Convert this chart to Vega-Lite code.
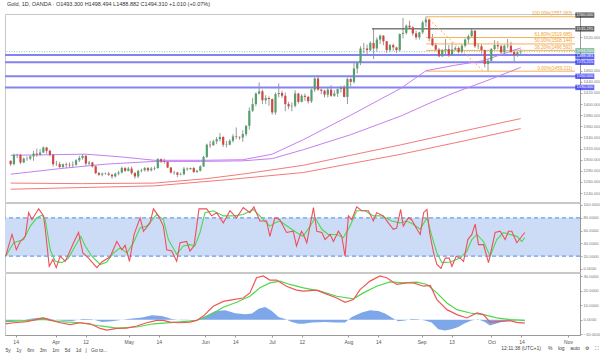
{
  "$schema": "https://vega.github.io/schema/vega-lite/v6.json",
  "background": "white",
  "padding": {"left": 2, "top": 1, "right": 0, "bottom": 0},
  "spacing": 1,
  "bounds": "flush",
  "config": {"view": {"stroke": "#c8c8c8", "strokeWidth": 1}, "font": "Liberation Sans", "axis": {"labelOverlap": false, "labelBound": false, "labelFlush": false, "tickCount": 100}},
  "datasets": {
    "candles": [
      {"i":-156,"o":1298,"h":1299,"l":1289,"c":1292},{"i":-155,"o":1292,"h":1311,"l":1290,"c":1309},{"i":-154,"o":1309,"h":1311,"l":1303,"c":1309.5},{"i":-153,"o":1309,"h":1310,"l":1292,"c":1295},{"i":-152,"o":1295,"h":1304,"l":1294,"c":1302},{"i":-151,"o":1302,"h":1306,"l":1298,"c":1302.6},{"i":-150,"o":1302,"h":1308,"l":1299,"c":1306},{"i":-149,"o":1306,"h":1316,"l":1298,"c":1311},{"i":-148,"o":1311,"h":1320,"l":1305,"c":1309},{"i":-147,"o":1309,"h":1319,"l":1307,"c":1313},{"i":-146,"o":1313,"h":1324,"l":1312,"c":1322},{"i":-145,"o":1322,"h":1323,"l":1311,"c":1316},{"i":-144,"o":1316,"h":1318,"l":1306,"c":1309},{"i":-143,"o":1309,"h":1310,"l":1288,"c":1292},{"i":-142,"o":1292,"h":1298,"l":1289,"c":1292.6},
      {"i":-141,"o":1292,"h":1296,"l":1285,"c":1287},{"i":-140,"o":1287,"h":1293,"l":1285,"c":1292},{"i":-139,"o":1292,"h":1295,"l":1285,"c":1291},{"i":-138,"o":1291,"h":1295,"l":1285,"c":1290},{"i":-137,"o":1290,"h":1297,"l":1285,"c":1291},{"i":-136,"o":1291,"h":1301,"l":1289,"c":1299},{"i":-135,"o":1299,"h":1307,"l":1296,"c":1303},{"i":-134,"o":1303,"h":1310,"l":1300,"c":1307},{"i":-133,"o":1307,"h":1309,"l":1289,"c":1293},{"i":-132,"o":1293,"h":1298,"l":1290,"c":1295},{"i":-131,"o":1295,"h":1296,"l":1286,"c":1288},{"i":-130,"o":1288,"h":1290,"l":1274,"c":1276},{"i":-129,"o":1276,"h":1278,"l":1271,"c":1273},{"i":-128,"o":1273,"h":1277,"l":1270,"c":1275},{"i":-127,"o":1275,"h":1277,"l":1273,"c":1275.6},{"i":-126,"o":1275,"h":1278,"l":1271,"c":1273},{"i":-125,"o":1273,"h":1275,"l":1266,"c":1270},{"i":-124,"o":1270,"h":1277,"l":1268,"c":1275},{"i":-123,"o":1275,"h":1280,"l":1272,"c":1277},{"i":-122,"o":1277,"h":1288,"l":1275,"c":1285},{"i":-121,"o":1285,"h":1287,"l":1278,"c":1280},{"i":-120,"o":1280,"h":1287,"l":1279,"c":1284},
      {"i":-119,"o":1284,"h":1288,"l":1273,"c":1276},{"i":-118,"o":1276,"h":1278,"l":1266,"c":1270},{"i":-117,"o":1270,"h":1282,"l":1267,"c":1280},{"i":-116,"o":1280,"h":1284,"l":1277,"c":1281},{"i":-115,"o":1281,"h":1287,"l":1279,"c":1285},{"i":-114,"o":1285,"h":1287,"l":1278,"c":1281},{"i":-113,"o":1281,"h":1287,"l":1279,"c":1284},{"i":-112,"o":1284,"h":1288,"l":1281,"c":1285},{"i":-111,"o":1285,"h":1303,"l":1284,"c":1301},{"i":-110,"o":1301,"h":1302,"l":1294,"c":1297},{"i":-109,"o":1297,"h":1302,"l":1293,"c":1296},{"i":-108,"o":1296,"h":1298,"l":1285,"c":1286},{"i":-107,"o":1286,"h":1287,"l":1275,"c":1277},{"i":-106,"o":1277,"h":1280,"l":1273,"c":1277.6},{"i":-105,"o":1277,"h":1278,"l":1269,"c":1273},{"i":-104,"o":1273,"h":1277,"l":1272,"c":1274},{"i":-103,"o":1274,"h":1287,"l":1272,"c":1284},{"i":-102,"o":1284,"h":1286,"l":1280,"c":1283},{"i":-101,"o":1283,"h":1286,"l":1282,"c":1285},{"i":-100,"o":1285,"h":1287,"l":1276,"c":1278},{"i":-99,"o":1278,"h":1282,"l":1276,"c":1280},{"i":-98,"o":1280,"h":1290,"l":1279,"c":1288},{"i":-97,"o":1288,"h":1307,"l":1287,"c":1305},
      {"i":-96,"o":1305,"h":1329,"l":1303,"c":1327},{"i":-95,"o":1327,"h":1334,"l":1321,"c":1326},{"i":-94,"o":1326,"h":1336,"l":1325,"c":1333},{"i":-93,"o":1333,"h":1341,"l":1328,"c":1337},{"i":-92,"o":1337,"h":1348,"l":1333,"c":1341},{"i":-91,"o":1341,"h":1342,"l":1323,"c":1327},{"i":-90,"o":1327,"h":1334,"l":1322,"c":1327.7},{"i":-89,"o":1327,"h":1337,"l":1326,"c":1334},{"i":-88,"o":1334,"h":1346,"l":1331,"c":1342},{"i":-87,"o":1342,"h":1358,"l":1337,"c":1341},{"i":-86,"o":1341,"h":1342,"l":1336,"c":1340},{"i":-85,"o":1340,"h":1353,"l":1332,"c":1346},{"i":-84,"o":1346,"h":1362,"l":1342,"c":1361},{"i":-83,"o":1361,"h":1394,"l":1354,"c":1388},{"i":-82,"o":1388,"h":1411,"l":1386,"c":1400},{"i":-81,"o":1400,"h":1421,"l":1396,"c":1419},{"i":-80,"o":1419,"h":1439,"l":1417,"c":1423},{"i":-79,"o":1423,"h":1426,"l":1400,"c":1407},{"i":-78,"o":1407,"h":1416,"l":1400,"c":1411},{"i":-77,"o":1411,"h":1414,"l":1397,"c":1409},
      {"i":-76,"o":1409,"h":1410,"l":1381,"c":1385},{"i":-75,"o":1385,"h":1421,"l":1381,"c":1418},{"i":-74,"o":1418,"h":1437,"l":1412,"c":1420},{"i":-73,"o":1420,"h":1424,"l":1411,"c":1415},{"i":-72,"o":1415,"h":1421,"l":1387,"c":1400},{"i":-71,"o":1400,"h":1404,"l":1391,"c":1396},{"i":-70,"o":1396,"h":1403,"l":1387,"c":1397},{"i":-69,"o":1397,"h":1425,"l":1394,"c":1419},{"i":-68,"o":1419,"h":1420,"l":1401,"c":1404},{"i":-67,"o":1404,"h":1418,"l":1403,"c":1415},{"i":-66,"o":1415,"h":1419,"l":1406,"c":1413},{"i":-65,"o":1413,"h":1415,"l":1401,"c":1405},{"i":-64,"o":1405,"h":1428,"l":1402,"c":1426},{"i":-63,"o":1426,"h":1448,"l":1422,"c":1446},{"i":-62,"o":1446,"h":1452,"l":1424,"c":1426},{"i":-61,"o":1426,"h":1428,"l":1418,"c":1424},{"i":-60,"o":1424,"h":1426,"l":1412,"c":1417},{"i":-59,"o":1417,"h":1430,"l":1412,"c":1426},{"i":-58,"o":1426,"h":1434,"l":1413,"c":1415},{"i":-57,"o":1415,"h":1425,"l":1413,"c":1419},{"i":-56,"o":1419,"h":1428,"l":1413,"c":1427},{"i":-55,"o":1427,"h":1433,"l":1421,"c":1430},{"i":-54,"o":1430,"h":1434,"l":1412,"c":1413},
      {"i":-53,"o":1413,"h":1448,"l":1400,"c":1445},{"i":-52,"o":1445,"h":1448,"l":1432,"c":1440},{"i":-51,"o":1440,"h":1474,"l":1437,"c":1464},{"i":-50,"o":1464,"h":1474,"l":1455,"c":1474},{"i":-49,"o":1474,"h":1504,"l":1470,"c":1500},{"i":-48,"o":1500,"h":1510,"l":1491,"c":1500.7},{"i":-47,"o":1500,"h":1507,"l":1490,"c":1497},{"i":-46,"o":1497,"h":1513,"l":1495,"c":1510},{"i":-45,"o":1510,"h":1535,"l":1481,"c":1500},{"i":-44,"o":1500,"h":1520,"l":1494,"c":1516},{"i":-43,"o":1516,"h":1525,"l":1508,"c":1523},{"i":-42,"o":1523,"h":1524,"l":1506,"c":1513},{"i":-41,"o":1513,"h":1513,"l":1492,"c":1497},{"i":-40,"o":1497,"h":1508,"l":1494,"c":1506},{"i":-39,"o":1506,"h":1509,"l":1496,"c":1502},{"i":-38,"o":1502,"h":1503,"l":1492,"c":1497},{"i":-37,"o":1497,"h":1527,"l":1494,"c":1526},{"i":-36,"o":1526,"h":1555,"l":1518,"c":1528},{"i":-35,"o":1528,"h":1543,"l":1525,"c":1541},{"i":-34,"o":1541,"h":1550,"l":1535,"c":1538},{"i":-33,"o":1538,"h":1540,"l":1523,"c":1527},{"i":-32,"o":1527,"h":1532,"l":1516,"c":1520},
      {"i":-31,"o":1520,"h":1530,"l":1516,"c":1529},{"i":-30,"o":1529,"h":1550,"l":1526,"c":1547},{"i":-29,"o":1547,"h":1557,"l":1539,"c":1552},{"i":-28,"o":1552,"h":1554,"l":1513,"c":1518},{"i":-27,"o":1518,"h":1526,"l":1504,"c":1506},{"i":-26,"o":1506,"h":1510,"l":1495,"c":1498},{"i":-25,"o":1498,"h":1501,"l":1484,"c":1486},{"i":-24,"o":1486,"h":1499,"l":1485,"c":1497},{"i":-23,"o":1497,"h":1517,"l":1489,"c":1499},{"i":-22,"o":1499,"h":1506,"l":1485,"c":1488},{"i":-21,"o":1488,"h":1511,"l":1487,"c":1498},{"i":-20,"o":1498,"h":1504,"l":1497,"c":1501},{"i":-19,"o":1501,"h":1504,"l":1491,"c":1494},{"i":-18,"o":1494,"h":1508,"l":1491,"c":1505},{"i":-17,"o":1505,"h":1518,"l":1502,"c":1516},{"i":-16,"o":1516,"h":1525,"l":1509,"c":1522},{"i":-15,"o":1522,"h":1535,"l":1520,"c":1532},{"i":-14,"o":1532,"h":1533,"l":1501,"c":1504},{"i":-13,"o":1504,"h":1509,"l":1499,"c":1504.7},{"i":-12,"o":1504,"h":1508,"l":1491,"c":1497},{"i":-11,"o":1497,"h":1498,"l":1466,"c":1472},
      {"i":-10,"o":1472,"h":1482,"l":1459,"c":1478},{"i":-9,"o":1478,"h":1501,"l":1474,"c":1499},{"i":-8,"o":1499,"h":1515,"l":1497,"c":1506},{"i":-7,"o":1506,"h":1513,"l":1499,"c":1504},{"i":-6,"o":1504,"h":1507,"l":1490,"c":1493},{"i":-5,"o":1493,"h":1507,"l":1487,"c":1505},{"i":-4,"o":1505,"h":1517,"l":1500,"c":1505.7},{"i":-3,"o":1505,"h":1512,"l":1491,"c":1494},{"i":-2,"o":1494,"h":1498,"l":1475,"c":1488},{"i":-1,"o":1488,"h":1495,"l":1485,"c":1493.3},{"i":0,"o":1493.3,"h":1498.494,"l":1488.882,"c":1494.31}
    ],
    "ma": [
      {"s":"p1","i":-156,"v":1308},{"s":"p1","i":-144,"v":1309},{"s":"p1","i":-133,"v":1310},{"s":"p1","i":-122,"v":1305},{"s":"p1","i":-112,"v":1299},{"s":"p1","i":-97,"v":1299},{"s":"p1","i":-85,"v":1300},{"s":"p1","i":-76,"v":1310},{"s":"p1","i":-66.5,"v":1336},{"s":"p1","i":-52,"v":1380},{"s":"p1","i":-36.5,"v":1429},{"s":"p1","i":-29,"v":1460},{"s":"p1","i":-20,"v":1470},{"s":"p1","i":-11.5,"v":1478},{"s":"p1","i":0,"v":1501},
      {"s":"p2","i":-156,"v":1274},{"s":"p2","i":-141,"v":1284},{"s":"p2","i":-127,"v":1292},{"s":"p2","i":-112,"v":1297},{"s":"p2","i":-98,"v":1297},{"s":"p2","i":-85,"v":1298},{"s":"p2","i":-76,"v":1302},{"s":"p2","i":-66.5,"v":1318},{"s":"p2","i":-52,"v":1345},{"s":"p2","i":-36.5,"v":1379},{"s":"p2","i":-27.4,"v":1403},{"s":"p2","i":-20.5,"v":1420},{"s":"p2","i":-10,"v":1443},{"s":"p2","i":0,"v":1466},
      {"s":"r1","i":-156,"v":1258},{"s":"r1","i":-134,"v":1257},{"s":"r1","i":-112,"v":1258},{"s":"r1","i":-96,"v":1266},{"s":"r1","i":-84,"v":1275},{"s":"r1","i":-66.5,"v":1290},{"s":"r1","i":-52,"v":1308},{"s":"r1","i":-36.5,"v":1327},{"s":"r1","i":-18,"v":1351},{"s":"r1","i":0,"v":1374},
      {"s":"r2","i":-156,"v":1247},{"s":"r2","i":-134,"v":1250},{"s":"r2","i":-112,"v":1253},{"s":"r2","i":-90,"v":1264},{"s":"r2","i":-66.5,"v":1277},{"s":"r2","i":-52,"v":1293},{"s":"r2","i":-36.5,"v":1310},{"s":"r2","i":-18,"v":1333},{"s":"r2","i":0,"v":1356}
    ],
    "levels": [{"p":1488.081},{"p":1475.215},{"p":1450},{"p":1430}],
    "fib": [
      {"p":1557.063,"t":"100.00%(1557.063)"},{"p":1519.685,"t":"61.80%(1519.685)"},{"p":1508.144,"t":"50.00%(1508.144)"},{"p":1496.592,"t":"38.20%(1496.592)"},{"p":1459.211,"t":"0.00%(1459.211)"}
    ],
    "tags": [
      {"p":1560,"t":"1560.000","k":"b"},{"p":1535.295,"t":"1535.295","k":"b"},{"p":1494.31,"t":"1494.310","k":"g"},{"p":1488.081,"t":"1488.081","k":"u"},{"p":1475.215,"t":"1475.215","k":"u"},{"p":1450,"t":"1450.000","k":"u"},{"p":1430,"t":"1430.000","k":"u"}
    ],
    "stk": [
      {"i":-156,"v":20},{"i":-154.1,"v":54},{"i":-152.8,"v":30},{"i":-151.6,"v":43},{"i":-150.1,"v":51},{"i":-149.1,"v":88},{"i":-148.1,"v":77},{"i":-146.1,"v":94},{"i":-144.6,"v":83},{"i":-144.1,"v":62},{"i":-142.9,"v":4},{"i":-141.8,"v":15},{"i":-140.8,"v":2},{"i":-139.6,"v":20},{"i":-138.1,"v":12},{"i":-137.1,"v":23},{"i":-135.6,"v":41},{"i":-134.1,"v":57},{"i":-132.8,"v":25},{"i":-131.1,"v":17},{"i":-128.6,"v":2},{"i":-127.1,"v":11},{"i":-124.6,"v":19},{"i":-122.6,"v":43},{"i":-121.1,"v":30},{"i":-120.1,"v":37},{"i":-118.8,"v":12},{"i":-117.4,"v":54},{"i":-115.6,"v":80},{"i":-114.6,"v":59},{"i":-112.6,"v":72},{"i":-111.6,"v":94},{"i":-110.1,"v":83},{"i":-108.6,"v":67},{"i":-107.6,"v":30},{"i":-106.1,"v":28},{"i":-104.6,"v":12},{"i":-103.6,"v":41},{"i":-101.6,"v":43},{"i":-100.6,"v":28},{"i":-99.4,"v":36},{"i":-97.9,"v":94},{"i":-95.6,"v":94},{"i":-94.1,"v":83},{"i":-92.6,"v":88},{"i":-90.6,"v":72},{"i":-88.6,"v":91},{"i":-86.6,"v":80},{"i":-84.6,"v":96},{"i":-82.6,"v":88},{"i":-81.4,"v":97},{"i":-79.6,"v":75},{"i":-77.6,"v":75},{"i":-76.6,"v":51},{"i":-75.1,"v":80},{"i":-73.6,"v":77},{"i":-71.6,"v":57},{"i":-69.6,"v":59},{"i":-68.6,"v":36},{"i":-67.1,"v":59},{"i":-66.5,"v":54},{"i":-65.5,"v":41},{"i":-63.5,"v":96},{"i":-62.5,"v":59},{"i":-61,"v":57},{"i":-60,"v":46},{"i":-58.5,"v":54},{"i":-57.5,"v":43},{"i":-56,"v":59},{"i":-55,"v":51},{"i":-54,"v":20},{"i":-53,"v":83},{"i":-52,"v":77},{"i":-50.5,"v":97},{"i":-49,"v":91},{"i":-47,"v":91},{"i":-45.5,"v":75},{"i":-44.5,"v":88},{"i":-42.5,"v":83},{"i":-41,"v":72},{"i":-39.5,"v":62},{"i":-38.5,"v":64},{"i":-37.3,"v":93},{"i":-36.5,"v":67},{"i":-35,"v":80},{"i":-34,"v":77},{"i":-32.4,"v":62},{"i":-31.4,"v":54},{"i":-30.4,"v":88},{"i":-29.4,"v":93},{"i":-28.6,"v":57},{"i":-27.4,"v":25},{"i":-26.4,"v":7},{"i":-25.2,"v":1},{"i":-23.9,"v":17},{"i":-22.7,"v":17},{"i":-21.9,"v":4},{"i":-20.6,"v":20},{"i":-19.4,"v":17},{"i":-18.4,"v":12},{"i":-17.1,"v":46},{"i":-15.9,"v":54},{"i":-14.9,"v":70},{"i":-13.9,"v":38},{"i":-12.4,"v":38},{"i":-10.9,"v":10},{"i":-8.9,"v":57},{"i":-7.4,"v":59},{"i":-5.9,"v":46},{"i":-4.9,"v":59},{"i":-3.9,"v":59},{"i":-2.4,"v":41},{"i":0,"v":57}
    ],
    "std": [
      {"i":-156,"v":20},{"i":-153.6,"v":41},{"i":-150.6,"v":46},{"i":-148.6,"v":67},{"i":-146.6,"v":80},{"i":-145.1,"v":84},{"i":-144.1,"v":77},{"i":-142.6,"v":30},{"i":-141.1,"v":12},{"i":-139.1,"v":10},{"i":-137.1,"v":17},{"i":-135.1,"v":36},{"i":-133.4,"v":51},{"i":-132.1,"v":36},{"i":-130.1,"v":20},{"i":-127.6,"v":7},{"i":-125.6,"v":11},{"i":-123.6,"v":25},{"i":-121.6,"v":33},{"i":-119.6,"v":25},{"i":-117.6,"v":41},{"i":-115.6,"v":64},{"i":-113.6,"v":67},{"i":-110.6,"v":85},{"i":-108.6,"v":77},{"i":-107.1,"v":46},{"i":-104.6,"v":23},{"i":-102.6,"v":36},{"i":-100.6,"v":38},{"i":-99.1,"v":36},{"i":-97.6,"v":57},{"i":-96.1,"v":88},{"i":-93.6,"v":91},{"i":-90.6,"v":83},{"i":-87.6,"v":83},{"i":-84.6,"v":85},{"i":-81.6,"v":93},{"i":-79.6,"v":83},{"i":-76.6,"v":67},{"i":-75.1,"v":72},{"i":-73.6,"v":75},{"i":-70.6,"v":64},{"i":-68.6,"v":57},{"i":-66.6,"v":51},{"i":-64.5,"v":67},{"i":-63,"v":80},{"i":-61,"v":62},{"i":-59,"v":54},{"i":-56.5,"v":54},{"i":-54.5,"v":49},{"i":-52.5,"v":67},{"i":-50.5,"v":91},{"i":-48,"v":91},{"i":-45.5,"v":83},{"i":-43,"v":83},{"i":-40,"v":75},{"i":-37.5,"v":72},{"i":-35.5,"v":75},{"i":-33.5,"v":70},{"i":-31.4,"v":62},{"i":-29.4,"v":80},{"i":-27.9,"v":51},{"i":-26.4,"v":25},{"i":-24.9,"v":10},{"i":-22.4,"v":11},{"i":-19.4,"v":17},{"i":-17.4,"v":28},{"i":-15.9,"v":46},{"i":-14.4,"v":54},{"i":-12.4,"v":43},{"i":-10.4,"v":20},{"i":-8.4,"v":46},{"i":-6.4,"v":57},{"i":-4.4,"v":54},{"i":-2.4,"v":51},{"i":-0.9,"v":43},{"i":0,"v":49}
    ],
    "macd": [
      {"i":-156,"v":-2.8},{"i":-153.6,"v":-2.1},{"i":-149.6,"v":-1.3},{"i":-146.6,"v":0.2},{"i":-144.6,"v":1.3},{"i":-142.6,"v":-0.3},{"i":-139.6,"v":-2.1},{"i":-136.6,"v":-3.4},{"i":-133.6,"v":-2.1},{"i":-130.6,"v":-2.8},{"i":-127.6,"v":-6.0},{"i":-125.6,"v":-7.2},{"i":-122.6,"v":-6.0},{"i":-119.6,"v":-5.8},{"i":-116.6,"v":-4.3},{"i":-113.6,"v":-2.1},{"i":-110.6,"v":-0.5},{"i":-108.6,"v":-0.5},{"i":-106.6,"v":-1.6},{"i":-103.6,"v":-2.1},{"i":-100.6,"v":-1.6},{"i":-98.6,"v":-0.5},{"i":-96.6,"v":2.5},{"i":-93.6,"v":9.2},{"i":-90.6,"v":12.6},{"i":-87.6,"v":13.8},{"i":-84.6,"v":14.9},{"i":-82.6,"v":18.4},{"i":-80.6,"v":28.8},{"i":-78.6,"v":30},{"i":-76.6,"v":27.2},{"i":-74.6,"v":27.2},{"i":-71.6,"v":23},{"i":-68.6,"v":20.3},{"i":-66.5,"v":19.6},{"i":-62.5,"v":20.3},{"i":-60.5,"v":18.4},{"i":-56.5,"v":14.9},{"i":-54,"v":11.9},{"i":-51.5,"v":13.8},{"i":-49.5,"v":20.7},{"i":-46.5,"v":26.5},{"i":-43.5,"v":30},{"i":-41.5,"v":28.8},{"i":-38.5,"v":24.2},{"i":-35.5,"v":25.3},{"i":-33.5,"v":25.3},{"i":-30.4,"v":23},{"i":-28.4,"v":23.5},{"i":-26.4,"v":13.8},{"i":-23.4,"v":6.9},{"i":-20.4,"v":3.5},{"i":-17.4,"v":1.2},{"i":-14.4,"v":4.6},{"i":-12.4,"v":3.5},{"i":-10.4,"v":-1.8},{"i":-7.4,"v":-1.1},{"i":-4.4,"v":-0.7},{"i":-2.4,"v":-1.8},{"i":0,"v":-2.3}
    ],
    "sig": [
      {"i":-156,"v":-1.3},{"i":-151.6,"v":-0.8},{"i":-144.6,"v":0.2},{"i":-139.6,"v":-1.3},{"i":-133.6,"v":-2.1},{"i":-127.6,"v":-4.3},{"i":-122.6,"v":-5.8},{"i":-116.6,"v":-5.0},{"i":-111.6,"v":-2.8},{"i":-104.6,"v":-1.6},{"i":-98.6,"v":-0.5},{"i":-94.6,"v":3},{"i":-90.6,"v":8.6},{"i":-86.6,"v":12},{"i":-82.6,"v":16.1},{"i":-79.6,"v":21.9},{"i":-76.6,"v":25.3},{"i":-73.6,"v":26.5},{"i":-70.6,"v":24.2},{"i":-66.5,"v":21.9},{"i":-61.5,"v":19.6},{"i":-56.5,"v":16.1},{"i":-51.5,"v":14.3},{"i":-48.5,"v":18.4},{"i":-44.5,"v":23},{"i":-40.5,"v":26},{"i":-36.5,"v":25.3},{"i":-32.4,"v":25.8},{"i":-29.4,"v":24.2},{"i":-26.4,"v":18.4},{"i":-23.4,"v":11.5},{"i":-20.4,"v":6.9},{"i":-16.4,"v":4.6},{"i":-12.4,"v":3.5},{"i":-8.4,"v":1.2},{"i":-4.4,"v":0},{"i":0,"v":-0.5}
    ],
    "hist": [
      {"i":-156,"v":-1.2},{"i":-152,"v":-0.5},{"i":-148,"v":0.8},{"i":-145,"v":1.5},{"i":-142,"v":0.3},{"i":-139,"v":-0.8},{"i":-136,"v":-0.9},{"i":-133,"v":0.5},{"i":-130,"v":0.3},{"i":-127,"v":-1.6},{"i":-124,"v":-1.0},{"i":-121,"v":0},{"i":-118,"v":0.8},{"i":-115,"v":1.5},{"i":-112,"v":3.0},{"i":-109,"v":2.5},{"i":-106,"v":0.5},{"i":-103,"v":-0.4},{"i":-100,"v":0},{"i":-98,"v":0.2},{"i":-96,"v":2.5},{"i":-93,"v":6.0},{"i":-90,"v":6.5},{"i":-87,"v":4.5},{"i":-84,"v":3.8},{"i":-82,"v":4.2},{"i":-80,"v":7.5},{"i":-78,"v":8.8},{"i":-76,"v":6.0},{"i":-74,"v":1.8},{"i":-72,"v":0.5},{"i":-70,"v":-1.5},{"i":-68,"v":-2.7},{"i":-66.5,"v":-2.7},{"i":-64,"v":-2.0},{"i":-60,"v":-1.5},{"i":-57,"v":-2.0},{"i":-54,"v":-2.0},{"i":-52,"v":1.8},{"i":-49,"v":5.0},{"i":-46.5,"v":6.5},{"i":-44,"v":6.0},{"i":-42,"v":4.2},{"i":-40,"v":1.5},{"i":-38,"v":-1.0},{"i":-36,"v":-0.5},{"i":-34,"v":0.5},{"i":-32,"v":0.3},{"i":-30,"v":-0.5},{"i":-28,"v":-2.0},{"i":-26,"v":-6.5},{"i":-24,"v":-7.4},{"i":-22,"v":-6.5},{"i":-20,"v":-5.0},{"i":-18,"v":-2.5},{"i":-16,"v":-0.5},{"i":-14,"v":0.3},{"i":-12,"v":-1.5},{"i":-10.5,"v":-3.9},{"i":-9,"v":-3.0},{"i":-7,"v":-1.5},{"i":-4,"v":-0.7},{"i":-2,"v":-0.4},{"i":0,"v":-1.0}
    ]
  },
  "vconcat": [
    {
      "width": 575,
      "height": 188,
      "title": {"text": "Gold, 1D, OANDA  ·  O1493.300  H1498.494  L1488.882  C1494.310  +1.010 (+0.07%)", "anchor": "start", "frame": "group", "offset": 4, "fontSize": 5.5, "fontWeight": "normal", "color": "#333333", "dx": 2},
      "resolve": {"scale": {"color": "independent"}},
      "layer": [
        {
          "data": {"name": "candles"},
          "mark": {"type": "rule", "color": "#9a9a9a", "strokeWidth": 1},
          "encoding": {
            "x": {"field": "i", "type": "quantitative", "scale": {"domain": [-156.2, 16.6], "nice": false, "zero": false}, "axis": null},
            "y": {"field": "l", "type": "quantitative", "scale": {"domain": [1224, 1562], "nice": false, "zero": false},
              "axis": {"orient": "right", "values": [1240,1260,1280,1300,1320,1340,1360,1380,1400,1420,1440,1460,1520], "tickCount": 100, "format": ".3f", "labelFontSize": 4.2, "labelColor": "#777777", "tickSize": 2, "tickColor": "#aaaaaa", "domainColor": "#999999", "labelPadding": 1, "grid": false, "title": null, "labelOverlap": false}},
            "y2": {"field": "h"}
          }
        },
        {
          "data": {"values": [{}]},
          "mark": {"type": "rule", "color": "#8cc6b4", "strokeDash": [1, 1.5], "strokeWidth": 1},
          "encoding": {"y": {"datum": 1494.31, "type": "quantitative"}}
        },
        {
          "data": {"name": "levels"},
          "mark": {"type": "rule", "color": "#8484f0", "strokeWidth": 2},
          "encoding": {"y": {"field": "p", "type": "quantitative"}}
        },
        {
          "data": {"values": [{}]},
          "mark": {"type": "rule", "color": "#3a3a3a", "strokeWidth": 1},
          "encoding": {"x": {"datum": -45.5, "type": "quantitative"}, "x2": {"datum": 16.6}, "y": {"datum": 1535.295, "type": "quantitative"}}
        },
        {
          "data": {"name": "fib"},
          "mark": {"type": "rule", "color": "#f5b155", "strokeWidth": 1},
          "encoding": {"x": {"datum": -28.9, "type": "quantitative"}, "x2": {"datum": 16.6}, "y": {"field": "p", "type": "quantitative"}}
        },
        {
          "data": {"name": "fib"},
          "mark": {"type": "text", "color": "#f0a030", "fontSize": 4.6, "align": "right", "baseline": "bottom", "dy": -0.5},
          "encoding": {"x": {"datum": 15.8, "type": "quantitative"}, "y": {"field": "p", "type": "quantitative"}, "text": {"field": "t"}}
        },
        {
          "data": {"values": [{}]},
          "mark": {"type": "rule", "color": "#f5b155", "strokeWidth": 1, "strokeDash": [2, 2]},
          "encoding": {"x": {"datum": -28.9, "type": "quantitative"}, "y": {"datum": 1557.063, "type": "quantitative"}, "x2": {"datum": -11.4}, "y2": {"datum": 1459.211}}
        },
        {
          "data": {"name": "ma"},
          "mark": {"type": "line", "strokeWidth": 1},
          "encoding": {
            "x": {"field": "i", "type": "quantitative"},
            "y": {"field": "v", "type": "quantitative"},
            "color": {"field": "s", "type": "nominal", "scale": {"domain": ["p1", "p2", "r1", "r2"], "range": ["#c57ff0", "#c57ff0", "#f47a7a", "#f47a7a"]}, "legend": null}
          }
        },
        {
          "data": {"name": "candles"},
          "mark": {"type": "bar", "size": 2.2},
          "encoding": {
            "x": {"field": "i", "type": "quantitative"},
            "y": {"field": "o", "type": "quantitative"},
            "y2": {"field": "c"},
            "color": {"condition": {"test": "datum.c >= datum.o", "value": "#53a06c"}, "value": "#d2473f"}
          }
        },
        {
          "data": {"name": "tags"},
          "transform": [{"filter": "datum.t != '1494.310' && datum.t != '1488.081'"}],
          "mark": {"type": "tick", "orient": "vertical", "thickness": 19, "size": 5.4},
          "encoding": {
            "x": {"datum": 19.6, "type": "quantitative"},
            "y": {"field": "p", "type": "quantitative"},
            "color": {"field": "k", "type": "nominal", "scale": {"domain": ["b", "g", "u"], "range": ["#1e1e1e", "#56a37e", "#1d22f0"]}, "legend": null}
          }
        },
        {
          "data": {"name": "tags"},
          "transform": [{"filter": "datum.t == '1494.310'"}],
          "mark": {"type": "tick", "orient": "vertical", "thickness": 19, "size": 5.2, "yOffset": -1, "color": "#56a37e"},
          "encoding": {"x": {"datum": 19.6, "type": "quantitative"}, "y": {"field": "p", "type": "quantitative"}}
        },
        {
          "data": {"name": "tags"},
          "transform": [{"filter": "datum.t == '1488.081'"}],
          "mark": {"type": "tick", "orient": "vertical", "thickness": 19, "size": 5.2, "yOffset": 1.3, "color": "#1d22f0"},
          "encoding": {"x": {"datum": 19.6, "type": "quantitative"}, "y": {"field": "p", "type": "quantitative"}}
        },
        {
          "data": {"name": "tags"},
          "transform": [{"filter": "datum.t != '1494.310' && datum.t != '1488.081'"}],
          "mark": {"type": "text", "color": "white", "fontSize": 4, "align": "center", "baseline": "middle"},
          "encoding": {"x": {"datum": 19.6, "type": "quantitative"}, "y": {"field": "p", "type": "quantitative"}, "text": {"field": "t"}}
        },
        {
          "data": {"name": "tags"},
          "transform": [{"filter": "datum.t == '1494.310'"}],
          "mark": {"type": "text", "color": "white", "fontSize": 4, "align": "center", "baseline": "middle", "yOffset": -1},
          "encoding": {"x": {"datum": 19.6, "type": "quantitative"}, "y": {"field": "p", "type": "quantitative"}, "text": {"field": "t"}}
        },
        {
          "data": {"name": "tags"},
          "transform": [{"filter": "datum.t == '1488.081'"}],
          "mark": {"type": "text", "color": "white", "fontSize": 4, "align": "center", "baseline": "middle", "yOffset": 1.3},
          "encoding": {"x": {"datum": 19.6, "type": "quantitative"}, "y": {"field": "p", "type": "quantitative"}, "text": {"field": "t"}}
        }
      ]
    },
    {
      "width": 575,
      "height": 69,
      "layer": [
        {
          "data": {"values": [{}]},
          "mark": {"type": "rect", "color": "#cddcf6"},
          "encoding": {
            "x": {"datum": -156.2, "type": "quantitative", "scale": {"domain": [-156.2, 16.6], "nice": false, "zero": false}, "axis": null},
            "x2": {"datum": 16.6},
            "y": {"datum": 20, "type": "quantitative", "scale": {"domain": [-4.7, 103.1], "nice": false, "zero": false},
              "axis": {"orient": "right", "values": [0, 20, 40, 60, 80, 100], "tickCount": 100, "format": ".4f", "labelFontSize": 4.2, "labelColor": "#777777", "tickSize": 2, "tickColor": "#aaaaaa", "domainColor": "#999999", "labelPadding": 1, "grid": false, "title": null, "labelOverlap": false}},
            "y2": {"datum": 80}
          }
        },
        {
          "data": {"values": [{"v": 20}, {"v": 80}]},
          "mark": {"type": "rule", "color": "#6f9de8", "strokeDash": [4, 3], "strokeWidth": 1.2},
          "encoding": {"y": {"field": "v", "type": "quantitative"}}
        },
        {
          "data": {"name": "std"},
          "mark": {"type": "line", "color": "#4cd94c", "strokeWidth": 1.1},
          "encoding": {"x": {"field": "i", "type": "quantitative"}, "y": {"field": "v", "type": "quantitative"}}
        },
        {
          "data": {"name": "stk"},
          "mark": {"type": "line", "color": "#ef4f5a", "strokeWidth": 1.1},
          "encoding": {"x": {"field": "i", "type": "quantitative"}, "y": {"field": "v", "type": "quantitative"}}
        }
      ]
    },
    {
      "width": 575,
      "height": 62,
      "title": {"text": "12:11:38 (UTC+1)\u00a0\u00a0\u00a0\u00a0\u00a0%\u00a0\u00a0\u00a0\u00a0log\u00a0\u00a0\u00a0\u00a0auto\u00a0\u00a0\u00a0\u00a0⚙\u00a0\u00a0\u00a0\u00a0⛶", "orient": "bottom", "anchor": "end", "frame": "group", "offset": -6, "fontSize": 5, "fontWeight": "normal", "color": "#444444", "dx": 19},
      "layer": [
        {
          "data": {"name": "hist"},
          "mark": {"type": "area", "color": "#7ea7ea", "opacity": 1},
          "encoding": {
            "x": {"field": "i", "type": "quantitative", "scale": {"domain": [-156.2, 16.6], "nice": false, "zero": false},
              "axis": {"values": [-153, -141, -132, -119, -110, -96, -87, -76, -67, -53, -44, -31, -22, -10, -1, 13], "tickCount": 100, "labelExpr": "['14','Apr','12','May','14','Jun','14','Jul','12','Aug','14','Sep','13','Oct','14','Nov'][indexof([-153,-141,-132,-119,-110,-96,-87,-76,-67,-53,-44,-31,-22,-10,-1,13], datum.value)]", "labelFontSize": 5, "labelColor": "#555555", "tickSize": 2, "tickColor": "#999999", "domainColor": "#999999", "labelPadding": 2, "grid": false, "labelOverlap": false, "labelFlush": false,
                "title": "5y\u00a0\u00a0\u00a0\u00a01y\u00a0\u00a0\u00a0\u00a06m\u00a0\u00a0\u00a0\u00a03m\u00a0\u00a0\u00a0\u00a01m\u00a0\u00a0\u00a0\u00a05d\u00a0\u00a0\u00a0\u00a01d\u00a0\u00a0\u00a0|\u00a0\u00a0\u00a0Go to...", "titleAnchor": "start", "titleFontSize": 5, "titleFontWeight": "normal", "titleColor": "#444444", "titlePadding": 3}},
            "y": {"field": "v", "type": "quantitative", "scale": {"domain": [-10.5, 32.06], "nice": false, "zero": false},
              "axis": {"orient": "right", "values": [-10, 0, 10, 20, 30], "tickCount": 100, "format": ".4f", "labelFontSize": 4.2, "labelColor": "#777777", "tickSize": 2, "tickColor": "#aaaaaa", "domainColor": "#999999", "labelPadding": 1, "grid": false, "title": null, "labelOverlap": false}},
            "y2": {"datum": 0}
          }
        },
        {
          "data": {"name": "sig"},
          "mark": {"type": "line", "color": "#4cd94c", "strokeWidth": 1.2},
          "encoding": {"x": {"field": "i", "type": "quantitative"}, "y": {"field": "v", "type": "quantitative"}}
        },
        {
          "data": {"name": "macd"},
          "mark": {"type": "line", "color": "#f25555", "strokeWidth": 1.2},
          "encoding": {"x": {"field": "i", "type": "quantitative"}, "y": {"field": "v", "type": "quantitative"}}
        }
      ]
    }
  ]
}
